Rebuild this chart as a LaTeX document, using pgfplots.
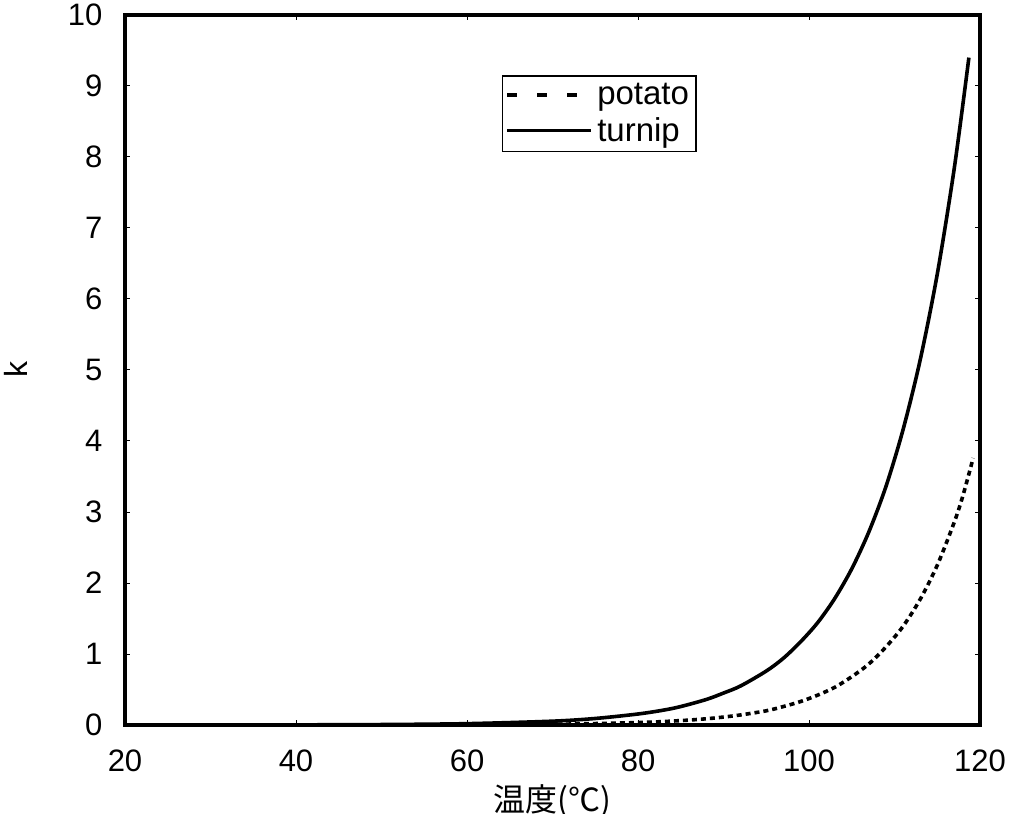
\documentclass[border=0pt]{standalone}
\usepackage{fontspec}
\setmainfont{Liberation Sans}
\newfontfamily\cjk{Noto Sans CJK JP}
\usepackage{pgfplots}
\pgfplotsset{compat=1.18}
\begin{document}
\begin{tikzpicture}
\path[use as bounding box] (-62.5pt,-44pt) rectangle (447.5pt,362.5pt);
\begin{axis}[
  at={(0pt,0pt)}, anchor=south west,
  scale only axis, width=427.5pt, height=355pt,
  xmin=20, xmax=120, ymin=0, ymax=10,
  xtick={20,40,...,120}, ytick={0,1,...,10},
  tick align=inside, major tick length=2.5pt,
  tick style={line width=0.5pt, black},
  axis line style={line width=2pt},
  every axis/.append style={line width=2pt},
  /pgf/number format/assume math mode=true,
  ticklabel style={font=\fontsize{15.5}{17}\selectfont},
  yticklabel style={xshift=-7pt},
  xticklabel style={yshift=-8pt},
  xlabel={\cjk 温度(℃)},
  xlabel style={at={(axis description cs:0.5,-0.108)}, anchor=center, font=\fontsize{16}{18}\selectfont},
  ylabel={k},
  ylabel style={at={(axis description cs:-0.128,0.5)}, anchor=center, font=\fontsize{16}{18}\selectfont},
  legend style={at={(0.441,0.915)}, anchor=north west, draw=black, line width=0.6pt,
    font=\fontsize{16.5}{18}\selectfont, inner sep=1.5pt, row sep=1pt},
  legend cell align=left,
]
\addplot[black, line width=1.8pt, dash pattern=on 2.5pt off 2pt, smooth,
  legend image code/.code={\draw[line width=1.8pt, dash pattern=on 5pt off 10pt] (0pt,0pt) -- (42pt,0pt);}]
  coordinates {
  (20,0) (40,0.0003) (60,0.003) (70,0.010) (80,0.034) (85,0.062) (88,0.088) (90,0.112)
  (92,0.142) (95,0.20) (97,0.26) (99,0.33) (101,0.42) (103,0.53) (105,0.68) (107,0.86)
  (109,1.10) (111,1.39) (113,1.77) (115,2.25) (117,2.86) (118,3.23) (119.2,3.76)
  };
\addlegendentry{potato}
\addplot[black, line width=1.8pt, smooth,
  legend image code/.code={\draw[line width=1.5pt] (0pt,0pt) -- (42pt,0pt);}]
  coordinates {
  (20,0) (40,0.0023) (50,0.0065) (60,0.019) (70,0.054) (75,0.092) (80,0.155) (83,0.21)
  (85,0.26) (88,0.36) (90,0.45) (92,0.55) (95,0.76) (97,0.94) (99,1.17) (101,1.44)
  (103,1.78) (105,2.20) (107,2.72) (109,3.36) (111,4.16) (113,5.14) (115,6.35)
  (117,7.85) (118.7,9.4)
  };
\addlegendentry{turnip}
\end{axis}
\end{tikzpicture}
\end{document}
